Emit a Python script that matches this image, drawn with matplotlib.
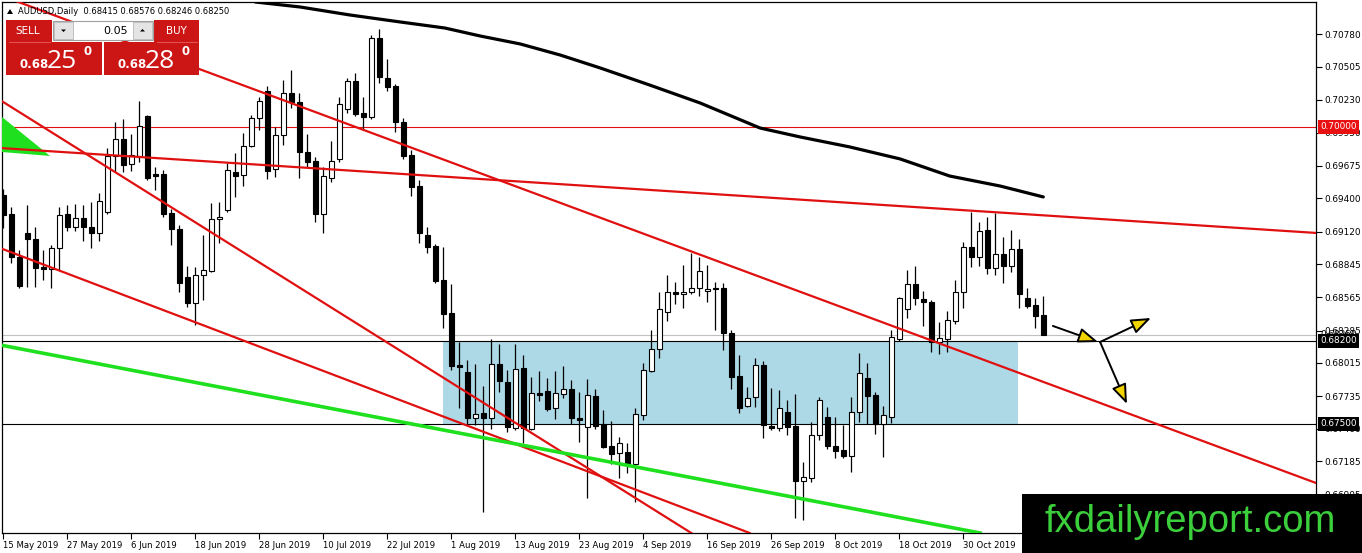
import matplotlib
matplotlib.use("Agg")
import matplotlib.pyplot as plt
import matplotlib.transforms as mtransforms
from matplotlib.patches import Rectangle, Polygon, FancyArrowPatch

# ---------------- data ----------------
opens = [0.69427, 0.69267, 0.68905, 0.69108, 0.69057, 0.68821, 0.68804, 0.68982, 0.69267, 0.69158,
         0.69234, 0.69158, 0.69108, 0.69284, 0.69755, 0.69899, 0.69688, 0.69755, 0.70092, 0.69604,
         0.69604, 0.69276, 0.69141, 0.68737, 0.68518, 0.68754, 0.68788, 0.69225, 0.69301, 0.69621,
         0.69596, 0.69839, 0.70076, 0.70303, 0.69646, 0.69933, 0.70286, 0.70210, 0.69789, 0.69714,
         0.69267, 0.69571, 0.69730, 0.70151, 0.70388, 0.70118, 0.70084, 0.70749, 0.70413, 0.70345,
         0.70042, 0.69764, 0.69503, 0.69091, 0.68998, 0.68712, 0.68434, 0.67996, 0.67937, 0.67550,
         0.67592, 0.67550, 0.68004, 0.67853, 0.67466, 0.67971, 0.67457, 0.67761, 0.67778, 0.67634,
         0.67753, 0.67794, 0.67550, 0.67474, 0.67736, 0.67499, 0.67314, 0.67256, 0.67264, 0.67163,
         0.67575, 0.67946, 0.68131, 0.68442, 0.68611, 0.68594, 0.68611, 0.68645, 0.68620, 0.68645,
         0.68645, 0.68266, 0.67903, 0.67651, 0.67727, 0.67996, 0.67482, 0.67466, 0.67600, 0.67482,
         0.67020, 0.67045, 0.67407, 0.67558, 0.67314, 0.67281, 0.67230, 0.67600, 0.67887, 0.67744,
         0.67499, 0.67558, 0.68215, 0.68467, 0.68678, 0.68552, 0.68526, 0.68190, 0.68215, 0.68367,
         0.68611, 0.68990, 0.68905, 0.69133, 0.68813, 0.68930, 0.68829, 0.68973, 0.68561, 0.68501,
         0.68415]
highs = [0.69478, 0.69326, 0.68964, 0.69343, 0.69158, 0.68964, 0.69007, 0.69326, 0.69343, 0.69351,
         0.69343, 0.69368, 0.69444, 0.69823, 0.70042, 0.70067, 0.69941, 0.70219, 0.70101, 0.69663,
         0.69638, 0.69309, 0.69175, 0.68829, 0.68821, 0.69091, 0.69360, 0.69368, 0.69697, 0.69781,
         0.69950, 0.70101, 0.70252, 0.70345, 0.70000, 0.70396, 0.70480, 0.70286, 0.69941, 0.69747,
         0.69663, 0.69882, 0.70252, 0.70413, 0.70455, 0.70252, 0.70774, 0.70825, 0.70572, 0.70362,
         0.70076, 0.69806, 0.69554, 0.69158, 0.69015, 0.68990, 0.68678, 0.68190, 0.68038, 0.68004,
         0.67819, 0.68215, 0.68173, 0.67954, 0.68173, 0.68080, 0.67895, 0.67946, 0.67887, 0.67946,
         0.67987, 0.67870, 0.67769, 0.67878, 0.67794, 0.67617, 0.67525, 0.67390, 0.67340, 0.67634,
         0.68013, 0.68291, 0.68611, 0.68754, 0.68695, 0.68838, 0.68939, 0.68905, 0.68838, 0.68695,
         0.68687, 0.68291, 0.68080, 0.67811, 0.68055, 0.68030, 0.67803, 0.67786, 0.67702, 0.67752,
         0.67180, 0.67516, 0.67727, 0.67643, 0.67558, 0.67491, 0.67727, 0.68097, 0.68013, 0.67769,
         0.67651, 0.68291, 0.68569, 0.68796, 0.68829, 0.68620, 0.68543, 0.68358, 0.68451, 0.68712,
         0.69032, 0.69284, 0.69200, 0.69242, 0.69276, 0.69074, 0.69133, 0.69057, 0.68645, 0.68561,
         0.68576]
lows = [0.69150, 0.68855, 0.68645, 0.68653, 0.68653, 0.68712, 0.68645, 0.68796, 0.69125, 0.69125,
        0.69041, 0.68982, 0.69041, 0.69267, 0.69621, 0.69621, 0.69630, 0.69705, 0.69554, 0.69469,
        0.69242, 0.69007, 0.68611, 0.68484, 0.68333, 0.68543, 0.68779, 0.69024, 0.69284, 0.69410,
        0.69503, 0.69831, 0.69975, 0.69562, 0.69579, 0.69848, 0.70160, 0.69571, 0.69663, 0.69200,
        0.69108, 0.69537, 0.69705, 0.70118, 0.70092, 0.69975, 0.70067, 0.70371, 0.70303, 0.69958,
        0.69730, 0.69418, 0.69024, 0.68939, 0.68687, 0.68308, 0.67954, 0.67635, 0.67491, 0.67491,
        0.66759, 0.67457, 0.67769, 0.67432, 0.67449, 0.67340, 0.67449, 0.67693, 0.67609, 0.67541,
        0.67719, 0.67499, 0.67348, 0.66877, 0.67457, 0.67298, 0.67163, 0.67045, 0.67087, 0.66843,
        0.67533, 0.67937, 0.68055, 0.68367, 0.68509, 0.68476, 0.68594, 0.68577, 0.68526, 0.68291,
        0.68122, 0.67794, 0.67592, 0.67643, 0.67643, 0.67382, 0.67449, 0.67441, 0.67407, 0.66709,
        0.66691, 0.67011, 0.67365, 0.67289, 0.67214, 0.67214, 0.67095, 0.67516, 0.67499, 0.67415,
        0.67222, 0.67508, 0.68199, 0.68392, 0.68501, 0.68324, 0.68105, 0.68088, 0.68105, 0.68341,
        0.68476, 0.68821, 0.68829, 0.68762, 0.68754, 0.68687, 0.68779, 0.68476, 0.68476, 0.68308,
        0.68246]
closes = [0.69259, 0.68905, 0.68661, 0.69057, 0.68813, 0.68804, 0.68982, 0.69259, 0.69158, 0.69234,
          0.69158, 0.69108, 0.69377, 0.69755, 0.69899, 0.69680, 0.69764, 0.70008, 0.69571, 0.69587,
          0.69267, 0.69141, 0.68687, 0.68518, 0.68754, 0.68796, 0.69225, 0.69242, 0.69638, 0.69587,
          0.69839, 0.70076, 0.70219, 0.69630, 0.69933, 0.70286, 0.70210, 0.69789, 0.69705, 0.69267,
          0.69587, 0.69714, 0.70193, 0.70388, 0.70109, 0.70084, 0.70749, 0.70421, 0.70337, 0.70042,
          0.69755, 0.69495, 0.69108, 0.68990, 0.68704, 0.68425, 0.67987, 0.67979, 0.67550, 0.67583,
          0.67550, 0.68004, 0.67862, 0.67474, 0.67962, 0.67466, 0.67761, 0.67744, 0.67626, 0.67761,
          0.67794, 0.67550, 0.67533, 0.67744, 0.67482, 0.67306, 0.67247, 0.67340, 0.67163, 0.67583,
          0.67954, 0.68131, 0.68467, 0.68611, 0.68594, 0.68611, 0.68645, 0.68788, 0.68636, 0.68636,
          0.68266, 0.67895, 0.67634, 0.67719, 0.67996, 0.67491, 0.67466, 0.67634, 0.67474, 0.67020,
          0.67053, 0.67407, 0.67702, 0.67314, 0.67273, 0.67230, 0.67600, 0.67929, 0.67735, 0.67499,
          0.67575, 0.68232, 0.68561, 0.68678, 0.68561, 0.68526, 0.68190, 0.68224, 0.68375, 0.68611,
          0.68990, 0.68905, 0.69125, 0.68813, 0.68930, 0.68829, 0.68973, 0.68594, 0.68492, 0.68410,
          0.68250]

date_labels = ["15 May 2019", "27 May 2019", "6 Jun 2019", "18 Jun 2019", "28 Jun 2019",
               "10 Jul 2019", "22 Jul 2019", "1 Aug 2019", "13 Aug 2019", "23 Aug 2019",
               "4 Sep 2019", "16 Sep 2019", "26 Sep 2019", "8 Oct 2019", "18 Oct 2019",
               "30 Oct 2019"]
date_label_bars = [0, 8, 16, 24, 32, 40, 48, 56, 64, 72, 80, 88, 96, 104, 112, 120]

price_ticks = [0.70780, 0.70505, 0.70230, 0.69950, 0.69675, 0.69400, 0.69120, 0.68845,
               0.68565, 0.68285, 0.68015, 0.67735, 0.67460, 0.67185, 0.66905]

# long moving average (black curve)
ma_bars = [31.5, 37.1, 43.3, 49.6, 55.2, 59.6, 64.6, 69.6, 74.6, 80.8, 87.1, 94.6,
           99.6, 105.8, 112.1, 118.3, 124.6, 130.0]
ma_values = [0.71052, 0.71010, 0.70943, 0.70884, 0.70833, 0.70766, 0.70699, 0.70606,
             0.70497, 0.70353, 0.70202, 0.69991, 0.69916, 0.69832, 0.69731, 0.69587,
             0.69503, 0.69411]

# trend lines: (bar1, price1, bar2, price2)
red_trend_lines = [
    (1.21, 0.71069, 164.09, 0.67003),
    (-0.41, 0.69823, 164.09, 0.69108),
    (-0.41, 0.70227, 86.0, 0.66582),
    (-0.41, 0.68981, 93.3, 0.66582),
]
green_trend_line = (-0.41, 0.68165, 122.1, 0.66582)
green_triangle_bars = [-0.16, 5.84, -0.16]
green_triangle_prices = [0.70084, 0.69756, 0.69789]

red_level = 0.70000
bid_level = 0.68250
black_levels = [0.68200, 0.67500]
zone_bars = (54.96, 126.84)
zone_prices = (0.67500, 0.68200)

# arrows: (bar_from, price_from, bar_to, price_to)
arrows = [
    (131.2, 0.68325, 136.84, 0.68190),
    (137.1, 0.68190, 143.46, 0.68392),
    (137.1, 0.68190, 140.46, 0.67668),
]

symbol = "AUDUSD,Daily"
lot = "0.05"
bid_price = 0.68250
ask_price = 0.68280

# ---------------- figure ----------------
W, H = 1362, 553
fig = plt.figure(figsize=(W / 100, H / 100), dpi=100)
fig.patch.set_facecolor("white")
L, R, T, B = 2, 1316, 2, 533
ax = fig.add_axes([L / W, 1 - B / H, (R - L) / W, (B - T) / H])
ax.set_xlim(-0.1625, 164.09)
ax.set_ylim(0.66582, 0.71052)
ax.set_facecolor("white")

RED = "#e01010"
GREEN = "#1ee01e"

# zone
ax.add_patch(Rectangle((zone_bars[0], zone_prices[0]), zone_bars[1] - zone_bars[0],
                       zone_prices[1] - zone_prices[0], facecolor="#add8e6",
                       edgecolor="none", zorder=1))

# horizontal levels
ax.axhline(red_level, color=RED, lw=0.8, zorder=2)
ax.axhline(bid_level, color="#c0c0c0", lw=0.8, zorder=2)
for lv in black_levels:
    ax.axhline(lv, color="black", lw=0.8, zorder=2)

# candles
xs = list(range(len(opens)))
ax.vlines(xs, lows, highs, color="black", lw=0.9, zorder=3)
bottoms = [min(o, c) for o, c in zip(opens, closes)]
heights = [max(abs(c - o), 0.000005) for o, c in zip(opens, closes)]
fills = ["white" if c >= o else "black" for o, c in zip(opens, closes)]
ax.bar(xs, heights, bottom=bottoms, width=0.62, color=fills, edgecolor="black",
       linewidth=0.8, zorder=4)

# moving average
ax.plot(ma_bars, ma_values, color="black", lw=2.3, zorder=5, solid_capstyle="round")

# trend lines
for (x1, y1, x2, y2) in red_trend_lines:
    ax.plot([x1, x2], [y1, y2], color=RED, lw=1.6, zorder=6)
gx1, gy1, gx2, gy2 = green_trend_line
ax.plot([gx1, gx2], [gy1, gy2], color=GREEN, lw=2.6, zorder=6)
ax.add_patch(Polygon(list(zip(green_triangle_bars, green_triangle_prices)), closed=True,
                     facecolor=GREEN, edgecolor="none", zorder=5))

# arrows
for (x1, y1, x2, y2) in arrows:
    ax.add_patch(FancyArrowPatch((x1, y1), (x2, y2),
                                 arrowstyle="-|>,head_length=1.0,head_width=0.38",
                                 mutation_scale=12, lw=1.4, edgecolor="black",
                                 facecolor="#f2d400", shrinkA=0, shrinkB=0, zorder=8))

# axes styling
for sp in ax.spines.values():
    sp.set_color("black")
    sp.set_linewidth(0.9)
ax.yaxis.tick_right()
ax.set_yticks(price_ticks)
ax.set_yticklabels([f"{p:.5f}" for p in price_ticks])
ax.set_xticks(date_label_bars)
ax.set_xticklabels(date_labels)
for lbl in ax.get_xticklabels():
    lbl.set_horizontalalignment("left")
ax.tick_params(axis="y", direction="out", length=4, width=0.8, pad=2, labelsize=6.4,
               colors="black")
ax.tick_params(axis="x", direction="out", length=4, width=0.8, pad=1.5, labelsize=6.1,
               colors="black")

# price boxes on the axis
trans = mtransforms.blended_transform_factory(ax.transAxes, ax.transData)
ax.text(1.0033, bid_level, f"{bid_level:.5f}", transform=trans, ha="left", va="center",
        fontsize=6.4, color="black", zorder=18, clip_on=False)
ax.text(1.0033, red_level, f"{red_level:.5f}", transform=trans, ha="left", va="center",
        fontsize=6.4, color="white", zorder=20, clip_on=False,
        bbox=dict(boxstyle="square,pad=0.25", facecolor="#e81010", edgecolor="none"))
for lv in black_levels:
    ax.text(1.0033, lv, f"{lv:.5f}", transform=trans, ha="left", va="center",
            fontsize=6.4, color="white", zorder=20, clip_on=False,
            bbox=dict(boxstyle="square,pad=0.25", facecolor="black", edgecolor="none"))

# ---------------- overlay (trade panel, header, watermark) ----------------
ov = fig.add_axes([0, 0, 1, 1], zorder=10)
ov.set_xlim(0, W)
ov.set_ylim(H, 0)
ov.axis("off")
ov.patch.set_alpha(0)

ov.add_patch(Polygon([(7, 14), (13, 14), (10, 9)], closed=True, facecolor="black",
                     edgecolor="none"))
header = f"{symbol}  {opens[-1]:.5f} {highs[-1]:.5f} {lows[-1]:.5f} {closes[-1]:.5f}"
ov.text(18, 11, header, ha="left", va="center", fontsize=6.0, color="black")

BTN = "#cc1616"
ov.add_patch(Rectangle((6, 20), 46, 22, facecolor=BTN, edgecolor="none"))
ov.add_patch(Rectangle((154, 20), 45, 22, facecolor=BTN, edgecolor="none"))
ov.add_patch(Rectangle((6, 42), 96, 33, facecolor=BTN, edgecolor="none"))
ov.add_patch(Rectangle((104, 42), 95, 33, facecolor=BTN, edgecolor="none"))
ov.plot([9, 50], [41.5, 41.5], color="#e86060", lw=0.6)
ov.plot([157, 197], [41.5, 41.5], color="#e86060", lw=0.6)
ov.text(28, 31, "SELL", ha="center", va="center", fontsize=7.5, color="white",
        family="DejaVu Sans")
ov.text(176, 31, "BUY", ha="center", va="center", fontsize=7.5, color="white",
        family="DejaVu Sans")

# lot spin control
ov.add_patch(Rectangle((53, 21), 100, 19, facecolor="white", edgecolor="#a0a0a0", lw=0.8))
ov.add_patch(Rectangle((54, 22), 19, 17, facecolor="#e4e4e4", edgecolor="#b8b8b8", lw=0.6))
ov.add_patch(Rectangle((133, 22), 19, 17, facecolor="#e4e4e4", edgecolor="#b8b8b8", lw=0.6))
ov.add_patch(Polygon([(61, 29.5), (66, 29.5), (63.5, 32)], closed=True, facecolor="black"))
ov.add_patch(Polygon([(140, 31.5), (145, 31.5), (142.5, 29)], closed=True, facecolor="black"))
ov.text(128, 31, lot, ha="right", va="center", fontsize=8, color="black")

# prices
for (x0, price) in [(20, bid_price), (118, ask_price)]:
    txt = f"{price:.5f}"
    ov.text(x0, 68, txt[:4], ha="left", va="baseline", fontsize=8.5, color="white",
            fontweight="bold")
    ov.text(x0 + 27, 68, txt[4:6], ha="left", va="baseline", fontsize=19, color="white",
            family="Open Sans")
    ov.text(x0 + 64, 55, txt[6], ha="left", va="baseline", fontsize=8.5, color="white",
            fontweight="bold")

# watermark
ov.add_patch(Rectangle((1022, 494), 340, 59, facecolor="black", edgecolor="none"))
ov.text(1190, 522, "fxdailyreport.com", ha="center", va="center", fontsize=27.5,
        color="#3ccf3c", family="Liberation Sans")

fig.savefig("out.png", dpi=100)
